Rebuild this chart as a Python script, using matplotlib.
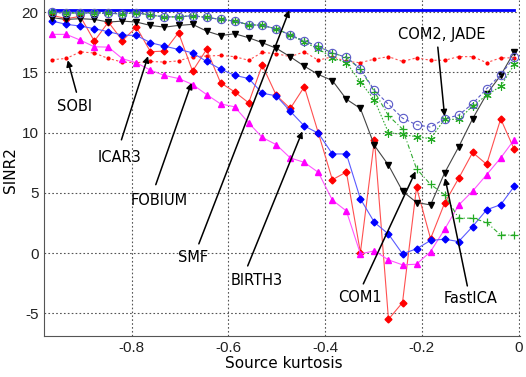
import matplotlib
matplotlib.use("Agg")
import matplotlib.pyplot as plt

plt.rcParams["axes.unicode_minus"] = False

kurtosis = [-0.964, -0.935, -0.906, -0.877, -0.848, -0.819, -0.790, -0.761, -0.732,
            -0.703, -0.674, -0.645, -0.616, -0.587, -0.558, -0.530, -0.501, -0.472,
            -0.443, -0.414, -0.385, -0.356, -0.327, -0.298, -0.269, -0.240, -0.211,
            -0.182, -0.153, -0.124, -0.095, -0.066, -0.037, -0.009]

ideal = [20.2] * 34

com2 = [20.0, 19.9, 19.95, 19.9, 19.9, 19.85, 19.95, 19.75, 19.6, 19.6, 19.7, 19.55,
        19.4, 19.25, 18.95, 18.9, 18.6, 18.1, 17.6, 17.15, 16.6, 16.25, 15.3, 13.5,
        12.35, 11.2, 10.65, 10.45, 11.15, 11.45, 12.4, 13.65, 14.8, 16.25]

jade = [20.0, 19.9, 19.95, 19.9, 19.9, 19.85, 19.95, 19.75, 19.6, 19.6, 19.7, 19.55,
        19.4, 19.25, 18.95, 18.9, 18.6, 18.1, 17.5, 16.95, 16.2, 15.8, 14.2, 12.7,
        10.0, 9.85, 9.65, 9.5, 11.1, 11.1, 12.2, 13.1, 13.85, 15.65]

fastica = [20.0, 19.9, 19.95, 19.9, 19.9, 19.85, 19.95, 19.75, 19.6, 19.6, 19.7, 19.55,
           19.4, 19.25, 18.95, 18.9, 18.6, 18.1, 17.6, 17.15, 16.6, 16.25, 15.25, 13.4,
           11.4, 10.3, 7.0, 5.7, 4.85, 2.9, 2.9, 2.55, 1.5, 1.5]

com1 = [19.53, 19.39, 19.45, 19.39, 19.17, 19.25, 19.17, 18.89, 18.75, 18.89, 18.98,
        18.42, 18.05, 18.2, 17.87, 17.46, 17.0, 16.29, 15.51, 14.82, 14.32, 12.77, 12.0,
        8.93, 7.3, 5.15, 4.2, 4.0, 6.65, 8.8, 11.15, 13.2, 14.75, 16.7]

sobi = [16.05, 16.15, 16.7, 16.6, 16.15, 15.85, 15.8, 15.9, 15.85, 15.95, 16.3, 16.35,
        16.4, 16.3, 16.0, 16.65, 16.55, 16.3, 16.7, 16.0, 16.3, 15.9, 15.8, 16.1, 16.3,
        15.9, 16.2, 16.0, 16.0, 16.3, 16.3, 15.8, 16.2, 16.2]

icar3 = [19.25, 18.98, 18.84, 18.62, 18.37, 18.09, 18.06, 17.46, 17.17, 16.9, 16.62,
         15.9, 15.27, 14.75, 14.49, 13.27, 13.05, 11.77, 10.55, 9.95, 8.23, 8.23, 4.5,
         2.55, 1.58, -0.06, 0.36, 1.05, 1.16, 0.96, 2.21, 3.6, 4.02, 5.54]

fobium = [18.15, 18.15, 17.67, 17.12, 17.09, 16.13, 15.79, 15.18, 14.74, 14.49, 13.99,
          13.16, 12.38, 12.14, 10.81, 9.6, 9.0, 7.9, 7.53, 6.7, 4.4, 3.5, -0.06, 0.19,
          -0.56, -0.97, -0.92, 0.13, 1.97, 3.98, 5.15, 6.51, 7.9, 9.42]

birth3 = [19.73, 19.45, 19.64, 17.59, 19.17, 17.64, 18.75, 16.71, 16.76, 18.29, 15.1,
          16.9, 14.13, 13.38, 12.47, 15.6, 13.1, 12.0, 13.8, 9.97, 6.09, 6.73, 0.05, 9.4,
          -5.49, -4.1, 5.45, 1.2, 4.15, 6.2, 8.35, 7.37, 11.14, 8.6]

labels = ["SOBI", "ICAR3", "FOBIUM", "SMF", "BIRTH3", "COM1", "FastICA", "COM2, JADE"]
label_xy = [(-0.917, 12.2), (-0.824, 7.9), (-0.743, 4.4), (-0.673, -0.35),
            (-0.541, -2.3), (-0.328, -3.7), (-0.099, -3.75), (-0.159, 18.15)]
tail_xy = [(-0.914, 13.35), (-0.821, 9.4), (-0.750, 5.68), (-0.661, 0.77),
           (-0.560, -1.06), (-0.321, -2.55), (-0.106, -2.72), (-0.167, 17.09)]
tip_xy = [(-0.932, 16.0), (-0.766, 16.34), (-0.676, 14.13), (-0.474, 20.14),
          (-0.447, 10.1), (-0.213, 6.78), (-0.152, 6.23), (-0.153, 11.36)]

fig = plt.figure(figsize=(5.26, 3.77), dpi=100)
ax = fig.add_axes([0.0837, 0.1095, 0.905, 0.8905])

ax.plot(kurtosis, ideal, color="#0000ff", lw=2.0, zorder=3)
ax.plot(kurtosis, sobi, color="#ff5050", lw=0.8, ls=(0, (2, 2)), marker="o",
        ms=2.0, mfc="#ff0000", mec="#ff0000", zorder=3)
ax.plot(kurtosis, birth3, color="#ff5050", lw=0.8, marker="D", ms=3.5,
        mfc="#ff0000", mec="#ff0000", zorder=4)
ax.plot(kurtosis, fobium, color="#ff55ff", lw=0.8, marker="^", ms=4.5,
        mfc="#ff00ff", mec="#ff00ff", zorder=4)
ax.plot(kurtosis, icar3, color="#5a5aff", lw=0.8, marker="D", ms=3.5,
        mfc="#0000ff", mec="#0000ff", zorder=5)
ax.plot(kurtosis, com1, color="#444444", lw=0.8, marker="v", ms=4.5,
        mfc="#000000", mec="#000000", zorder=5)
ax.plot(kurtosis, fastica, color="#33aa33", lw=0.8, ls=(0, (4, 2, 1, 2)), marker="+",
        ms=6, mew=0.9, mec="#22aa22", zorder=6)
ax.plot(kurtosis, jade, color="#33aa33", lw=0.8, ls=(0, (1.5, 1.5)), marker=(6, 2, 0),
        ms=6, mew=0.8, mec="#22aa22", zorder=6)
ax.plot(kurtosis, com2, color="#5a5ac8", lw=0.8, ls=(0, (3, 2)), marker="o", ms=6,
        mfc="none", mec="#5a5ac8", mew=0.8, zorder=6)

for lab, lxy, txy, pxy in zip(labels, label_xy, tail_xy, tip_xy):
    ax.text(lxy[0], lxy[1], lab, ha="center", va="center", fontsize=10.5,
            family="DejaVu Sans", zorder=10)
    ax.annotate("", xy=pxy, xytext=txy,
                arrowprops=dict(arrowstyle="-|>", color="black", lw=1.1,
                                mutation_scale=9, shrinkA=0, shrinkB=0), zorder=10)

ax.set_xlim(-0.981, 0.003)
ax.set_ylim(-6.85, 21.0)
ax.set_xticks([-0.8, -0.6, -0.4, -0.2, 0])
ax.set_xticklabels(["-0.8", "-0.6", "-0.4", "-0.2", "0"])
ax.set_yticks([-5, 0, 5, 10, 15, 20])
ax.set_yticklabels(["-5", "0", "5", "10", "15", "20"])
ax.grid(True, color="#555555", ls=(0, (1.5, 2)), lw=0.8)
ax.set_axisbelow(True)
for s in ["top", "right"]:
    ax.spines[s].set_visible(False)
for s in ["left", "bottom"]:
    ax.spines[s].set_color("#555555")
ax.tick_params(length=0, labelsize=11, colors="#222222", pad=4)
for t in ax.get_xticklabels() + ax.get_yticklabels():
    t.set_family("Liberation Sans")

fig.text(0.54, 0.035, "Source kurtosis", ha="center", va="center", fontsize=11)
fig.text(0.02, 0.55, "SINR2", ha="center", va="center", rotation=90, fontsize=11)

fig.savefig("out.png", dpi=100)
